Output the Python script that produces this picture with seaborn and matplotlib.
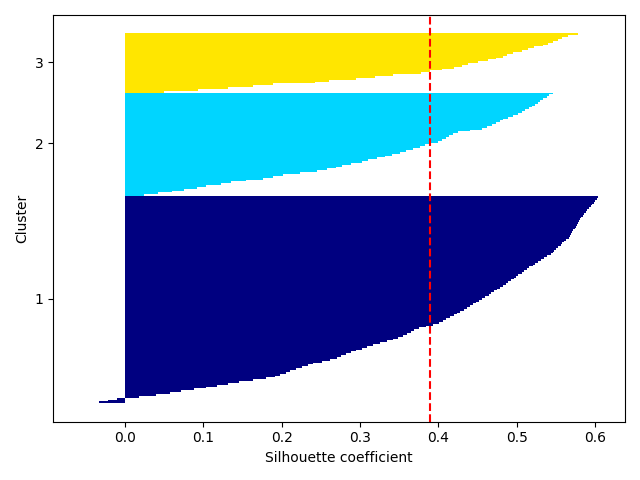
import numpy as np
import pandas as pd
import seaborn as sns
import matplotlib
matplotlib.use("Agg")
import matplotlib.pyplot as plt

# sorted silhouette values per cluster
cluster_1 = [
    -0.033, -0.022, -0.010, 0.018, 0.040, 0.058, 0.072, 0.088, 0.103, 0.118,
    0.132, 0.146, 0.163, 0.180, 0.191, 0.198, 0.205, 0.211, 0.218, 0.226,
    0.233, 0.240, 0.251, 0.262, 0.270, 0.276, 0.282, 0.288, 0.295, 0.302,
    0.309, 0.317, 0.326, 0.335, 0.342, 0.348, 0.355, 0.360, 0.365, 0.369,
    0.375, 0.384, 0.393, 0.401, 0.406, 0.410, 0.415, 0.420, 0.424, 0.428,
    0.432, 0.436, 0.440, 0.444, 0.448, 0.452, 0.456, 0.460, 0.464, 0.467,
    0.471, 0.475, 0.479, 0.482, 0.486, 0.489, 0.492, 0.496, 0.499, 0.502,
    0.506, 0.509, 0.513, 0.516, 0.520, 0.523, 0.527, 0.531, 0.535, 0.539,
    0.543, 0.546, 0.548, 0.550, 0.553, 0.556, 0.558, 0.560, 0.563, 0.566,
    0.568, 0.569, 0.571, 0.572, 0.574, 0.575, 0.577, 0.578, 0.579, 0.581,
    0.582, 0.584, 0.586, 0.588, 0.590, 0.592, 0.594, 0.596, 0.598, 0.600,
    0.602, 0.604,
]
cluster_2 = [
    0.024, 0.042, 0.060, 0.075, 0.092, 0.104, 0.123, 0.135, 0.155, 0.176,
    0.189, 0.202, 0.223, 0.245, 0.258, 0.269, 0.277, 0.289, 0.302, 0.310,
    0.322, 0.332, 0.341, 0.351, 0.359, 0.368, 0.376, 0.383, 0.391, 0.399,
    0.404, 0.410, 0.414, 0.419, 0.425, 0.440, 0.455, 0.462, 0.468, 0.473,
    0.478, 0.483, 0.489, 0.495, 0.501, 0.506, 0.511, 0.515, 0.519, 0.523,
    0.527, 0.530, 0.534, 0.538, 0.541, 0.546,
]
cluster_3 = [
    0.050, 0.093, 0.132, 0.163, 0.189, 0.242, 0.261, 0.295, 0.319, 0.342,
    0.378, 0.389, 0.405, 0.420, 0.430, 0.438, 0.451, 0.463, 0.473, 0.482,
    0.488, 0.495, 0.506, 0.514, 0.522, 0.533, 0.540, 0.546, 0.552, 0.557,
    0.565, 0.578,
]
cluster_labels = ["1", "2", "3"]
silhouette_avg = 0.389

clusters = [cluster_1, cluster_2, cluster_3]
colors = [plt.cm.jet(i / 3.0) for i in range(3)]

rows = []
yticks = []
y_lower = 0
for label, vals in zip(cluster_labels, clusters):
    y_upper = y_lower + len(vals)
    for pos, v in zip(range(y_lower, y_upper), sorted(vals)):
        rows.append({"silhouette": v, "position": pos, "cluster": label})
    yticks.append((y_lower + y_upper) / 2.0)
    y_lower = y_upper
df = pd.DataFrame(rows)

fig, ax = plt.subplots(figsize=(6.4, 4.8), dpi=100)
sns.barplot(data=df, x="silhouette", y="position", hue="cluster", orient="y",
            native_scale=True, width=1.0, dodge=False, palette=colors,
            saturation=1, errorbar=None, linewidth=0, legend=False, ax=ax)
ax.axvline(silhouette_avg, color="red", linestyle="--")
ax.set_yticks(yticks)
ax.set_yticklabels(cluster_labels)
ax.set_xlim(-0.0915, 0.638)
ax.set_ylabel("Cluster")
ax.set_xlabel("Silhouette coefficient")
plt.tight_layout()
plt.savefig("out.png")
